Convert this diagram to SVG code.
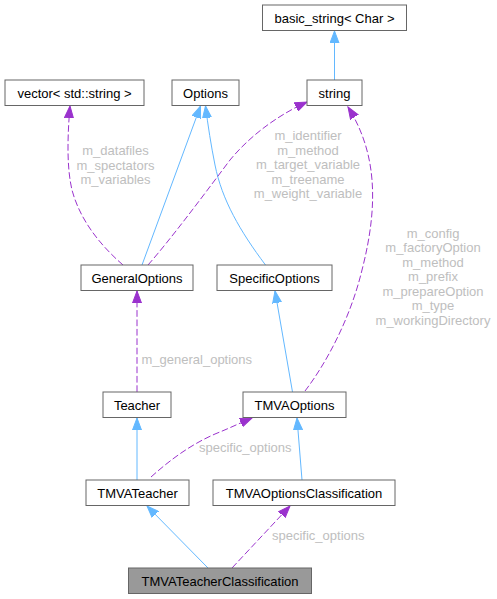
<svg xmlns="http://www.w3.org/2000/svg" width="497" height="599" viewBox="0 0 497 599">
<style>
.n rect{fill:#ffffff;stroke:#666666;stroke-width:1}
.n.h rect{fill:#999999}
.n text{font-family:"Liberation Sans",Arial,sans-serif;font-size:13px;fill:#000000;text-anchor:middle}
.e{fill:none;stroke-width:1}
.inh{stroke:#63b8ff}
.use{stroke:#9a32cd;stroke-dasharray:6.7,2.7}
.lbl{font-family:"Liberation Sans",Arial,sans-serif;font-size:13px;fill:#bebebe}
</style>
<defs>
<marker id="ab" markerUnits="userSpaceOnUse" markerWidth="13" markerHeight="10" refX="12" refY="5" orient="auto" viewBox="0 0 13 10">
<polygon points="0,0.5 12,5 0,9.5" fill="#63b8ff" stroke="#63b8ff" stroke-width="1"/>
</marker>
<marker id="ap" markerUnits="userSpaceOnUse" markerWidth="13" markerHeight="10" refX="12" refY="5" orient="auto" viewBox="0 0 13 10">
<polygon points="0,0.5 12,5 0,9.5" fill="#9a32cd" stroke="#9a32cd" stroke-width="1"/>
</marker>
</defs>
<g id="edges">
<path class="e inh" d="M334.5,80 L334.5,31" marker-end="url(#ab)"/>
<path class="e inh" d="M142,265 L200.5,106" marker-end="url(#ab)"/>
<path class="e inh" d="M265.5,265 C240,231 222,200 215,165 C211,145 208,126 205.5,106" marker-end="url(#ab)"/>
<path class="e use" d="M123,265 C100,245 80,220 72,190 C66,165 68,130 70,106" marker-end="url(#ap)"/>
<path class="e use" d="M148,265 C170,240 200,200 230,160 C255,130 285,112 307,102" marker-end="url(#ap)"/>
<path class="e use" d="M305,391 C325,365 350,320 362,270 C380,200 375,150 348,107" marker-end="url(#ap)"/>
<path class="e use" d="M137,392 L137,291" marker-end="url(#ap)"/>
<path class="e inh" d="M292.5,392 L275,291" marker-end="url(#ab)"/>
<path class="e inh" d="M137,480 L137,418" marker-end="url(#ab)"/>
<path class="e use" d="M151,477 C170,460 190,445 215,434 C230,428 240,423 252,418" marker-end="url(#ap)"/>
<path class="e inh" d="M302,480 L297,418" marker-end="url(#ab)"/>
<path class="e inh" d="M208,568 L147,506" marker-end="url(#ab)"/>
<path class="e use" d="M232,568 L290,506" marker-end="url(#ap)"/>
<text class="lbl" text-anchor="middle" x="115.5" y="155">m_datafiles</text>
<text class="lbl" text-anchor="middle" x="115.5" y="169.5">m_spectators</text>
<text class="lbl" text-anchor="middle" x="115.5" y="184">m_variables</text>
<text class="lbl" text-anchor="middle" x="308" y="140">m_identifier</text>
<text class="lbl" text-anchor="middle" x="308" y="154.5">m_method</text>
<text class="lbl" text-anchor="middle" x="308" y="169">m_target_variable</text>
<text class="lbl" text-anchor="middle" x="308" y="183.5">m_treename</text>
<text class="lbl" text-anchor="middle" x="308" y="198">m_weight_variable</text>
<text class="lbl" text-anchor="middle" x="433" y="237.5">m_config</text>
<text class="lbl" text-anchor="middle" x="433" y="252">m_factoryOption</text>
<text class="lbl" text-anchor="middle" x="433" y="266.5">m_method</text>
<text class="lbl" text-anchor="middle" x="433" y="281">m_prefix</text>
<text class="lbl" text-anchor="middle" x="433" y="295.5">m_prepareOption</text>
<text class="lbl" text-anchor="middle" x="433" y="310">m_type</text>
<text class="lbl" text-anchor="middle" x="433" y="324.5">m_workingDirectory</text>
<text class="lbl" x="141.5" y="364">m_general_options</text>
<text class="lbl" x="199" y="452">specific_options</text>
<text class="lbl" x="272" y="540">specific_options</text>
</g>
<g id="basic_string" class="n"><rect x="262.5" y="5" width="144" height="25.5"/><text x="334.5" y="22.5">basic_string&lt; Char &gt;</text></g>
<g id="vector" class="n"><rect x="5" y="80" width="139" height="25.5"/><text x="74.5" y="97.5">vector&lt; std::string &gt;</text></g>
<g id="Options" class="n"><rect x="172" y="80" width="67" height="25.5"/><text x="205.5" y="97.5">Options</text></g>
<g id="string" class="n"><rect x="307" y="80" width="55" height="25.5"/><text x="334.5" y="97.5">string</text></g>
<g id="GeneralOptions" class="n"><rect x="81" y="265" width="112" height="25.5"/><text x="137" y="282.5">GeneralOptions</text></g>
<g id="SpecificOptions" class="n"><rect x="217" y="265" width="115" height="25.5"/><text x="274.5" y="282.5">SpecificOptions</text></g>
<g id="Teacher" class="n"><rect x="103" y="392" width="68" height="25.5"/><text x="137" y="409.5">Teacher</text></g>
<g id="TMVAOptions" class="n"><rect x="243" y="392" width="103" height="25.5"/><text x="294.5" y="409.5">TMVAOptions</text></g>
<g id="TMVATeacher" class="n"><rect x="86" y="480" width="103" height="25.5"/><text x="137.5" y="497.5">TMVATeacher</text></g>
<g id="TMVAOptionsClassification" class="n"><rect x="213" y="480" width="182" height="25.5"/><text x="304" y="497.5">TMVAOptionsClassification</text></g>
<g id="TMVATeacherClassification" class="n h"><rect x="128.5" y="568" width="183" height="25.5"/><text x="220" y="585.5">TMVATeacherClassification</text></g>
</svg>
